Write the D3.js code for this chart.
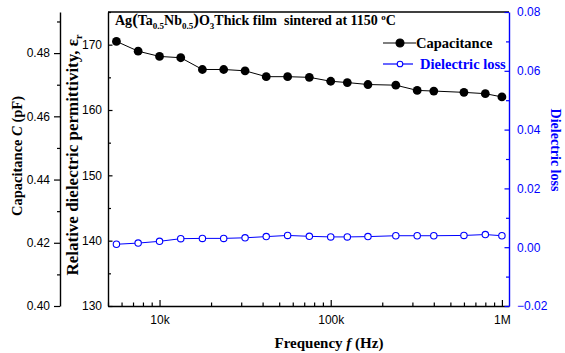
<!DOCTYPE html>
<html lang="en">
<head>
<meta charset="UTF-8">
<title>Ag(Ta,Nb)O3 thick film - permittivity and loss</title>
<script src="https://cdnjs.cloudflare.com/ajax/libs/d3/7.8.5/d3.min.js"></script>
<style>
    body { margin: 0; background: #fff; }
    .tick text { font-family: "Liberation Sans", Arial, sans-serif; font-size: 12px; }
    text.serif, .serif tspan { font-family: "Liberation Serif", "Times New Roman", serif; font-weight: bold; }
    .domain { stroke-width: 1.4; }
    .tick line { stroke-width: 1.2; }
</style>
</head>
<body>
<div id="chart"></div>
<script>
// values
const frequency = [5600, 7500, 10000, 13300, 17800, 23700, 31600, 42000, 56000, 75000,
                   100000, 125000, 165000, 240000, 320000, 400000, 600000, 800000, 1000000];
const permittivity = [170.5, 169.0, 168.2, 168.0, 166.2, 166.2, 166.0, 165.1, 165.1, 165.0,
                      164.4, 164.2, 163.9, 163.8, 163.0, 162.9, 162.7, 162.5, 162.0];
const loss = [0.0010, 0.0014, 0.0020, 0.0029, 0.0030, 0.0030, 0.0032, 0.0036, 0.0040, 0.0037,
              0.0035, 0.0035, 0.0036, 0.0039, 0.0039, 0.0039, 0.0040, 0.0043, 0.0039];

const freqTicks = [1e4, 1e5, 1e6];
const freqLabels = ["10k", "100k", "1M"];
const capTicks = [0.40, 0.42, 0.44, 0.46, 0.48];
const permTicks = [130, 140, 150, 160, 170];
const lossTicks = [-0.02, 0.00, 0.02, 0.04, 0.06, 0.08];

const blue = "#0000ff";
const serif = "'Liberation Serif', 'Times New Roman', serif";
const W = 565, H = 353;
const plot = {left: 108, right: 509, top: 12, bottom: 306};
const capAxisX = 60;

const svg = d3.select("#chart").append("svg")
    .attr("width", W)
    .attr("height", H);

// scales
const x = d3.scaleLog().domain([5000, 1.1e6]).range([plot.left, plot.right]);
const yPerm = d3.scaleLinear().domain([130, 175]).range([plot.bottom, plot.top]);
const yLoss = d3.scaleLinear().domain([-0.02, 0.08]).range([plot.bottom, plot.top]);
const yCap = d3.scaleLinear().domain([0.40, 0.493]).range([plot.bottom, plot.top]);

// top frame line
svg.append("line")
    .attr("x1", plot.left).attr("x2", plot.right)
    .attr("y1", plot.top).attr("y2", plot.top)
    .attr("stroke", "#000").attr("stroke-width", 1.4);

// x axis, ticks pointing inward
const xMinor = x.ticks().filter(d => !freqTicks.includes(d));
svg.append("g")
    .attr("transform", `translate(0,${plot.bottom})`)
    .call(d3.axisBottom(x).tickValues(xMinor).tickSize(-3.5).tickFormat(""))
    .call(g => g.select(".domain").remove());
svg.append("g")
    .attr("transform", `translate(0,${plot.bottom})`)
    .call(d3.axisBottom(x).tickValues(freqTicks)
        .tickFormat((d, i) => freqLabels[i])
        .tickSizeInner(-6).tickSizeOuter(0).tickPadding(9));

// permittivity axis (frame left)
svg.append("g")
    .attr("transform", `translate(${plot.left},0)`)
    .call(d3.axisLeft(yPerm).tickValues(d3.range(135, 176, 10)).tickSize(-3).tickFormat(""))
    .call(g => g.select(".domain").remove());
svg.append("g")
    .attr("transform", `translate(${plot.left},0)`)
    .call(d3.axisLeft(yPerm).tickValues(permTicks)
        .tickSizeInner(-4.5).tickSizeOuter(0).tickPadding(6));

// capacitance axis (outer left)
svg.append("g")
    .attr("transform", `translate(${capAxisX},0)`)
    .call(d3.axisLeft(yCap).tickValues(d3.range(0.41, 0.495, 0.02)).tickSize(3).tickFormat(""))
    .call(g => g.select(".domain").remove());
svg.append("g")
    .attr("transform", `translate(${capAxisX},0)`)
    .call(d3.axisLeft(yCap).tickValues(capTicks)
        .tickFormat(d3.format(".2f"))
        .tickSizeInner(6).tickSizeOuter(0).tickPadding(4));

// loss axis (right, blue)
svg.append("g")
    .attr("transform", `translate(${plot.right},0)`)
    .call(d3.axisRight(yLoss).tickValues(d3.range(-0.01, 0.08, 0.02)).tickSize(-3).tickFormat(""))
    .call(g => g.select(".domain").remove())
    .call(g => g.selectAll("line").attr("stroke", blue));
svg.append("g")
    .attr("transform", `translate(${plot.right},0)`)
    .call(d3.axisRight(yLoss).tickValues(lossTicks)
        .tickFormat(d3.format(".2f"))
        .tickSizeInner(-4.5).tickSizeOuter(0).tickPadding(8))
    .call(g => g.select(".domain").attr("stroke", blue))
    .call(g => g.selectAll("line").attr("stroke", blue))
    .call(g => g.selectAll("text").attr("fill", blue));

// permittivity series
const permPts = frequency.map((f, i) => [f, permittivity[i]]);
svg.append("path")
    .datum(permPts)
    .attr("fill", "none").attr("stroke", "#000").attr("stroke-width", 1)
    .attr("d", d3.line().x(d => x(d[0])).y(d => yPerm(d[1])));
svg.append("g").selectAll("circle")
    .data(permPts).join("circle")
    .attr("cx", d => x(d[0])).attr("cy", d => yPerm(d[1]))
    .attr("r", 4.4).attr("fill", "#000");

// loss series
const lossPts = frequency.map((f, i) => [f, loss[i]]);
svg.append("path")
    .datum(lossPts)
    .attr("fill", "none").attr("stroke", blue).attr("stroke-width", 1)
    .attr("d", d3.line().x(d => x(d[0])).y(d => yLoss(d[1])));
svg.append("g").selectAll("circle")
    .data(lossPts).join("circle")
    .attr("cx", d => x(d[0])).attr("cy", d => yLoss(d[1]))
    .attr("r", 3.2).attr("fill", "#fff").attr("stroke", blue).attr("stroke-width", 1.1);

// title inside plot
const title = svg.append("text").attr("class", "serif")
    .attr("x", 115).attr("y", 25).attr("font-size", 14);
title.append("tspan").text("Ag");
title.append("tspan").attr("font-size", 17).attr("font-weight", "normal").text("(");
title.append("tspan").text("Ta");
title.append("tspan").attr("font-size", 9).attr("dy", 4).text("0.5");
title.append("tspan").attr("dy", -4).text("Nb");
title.append("tspan").attr("font-size", 9).attr("dy", 4).text("0.5");
title.append("tspan").attr("dy", -4).attr("font-size", 17).attr("font-weight", "normal").text(")");
title.append("tspan").text("O");
title.append("tspan").attr("font-size", 9).attr("dy", 4).text("3");
title.append("tspan").attr("dy", -4).text("Thick film\u00a0\u00a0sintered at 1150 ");
title.append("tspan").attr("font-size", 9).attr("dy", -5).text("o");
title.append("tspan").attr("dy", 5).text("C");

// legend
const legend = [
    {label: "Capacitance", color: "#000", filled: true, y: 43, tx: 416},
    {label: "Dielectric loss", color: blue, filled: false, y: 64, tx: 420}
];
const lg = svg.append("g").selectAll("g").data(legend).join("g");
lg.append("line")
    .attr("x1", 383).attr("x2", d => d.filled ? 416 : 413)
    .attr("y1", d => d.y).attr("y2", d => d.y)
    .attr("stroke", d => d.color).attr("stroke-width", 1.2);
lg.append("circle")
    .attr("cx", 400).attr("cy", d => d.y)
    .attr("r", d => d.filled ? 4 : 2.8)
    .attr("fill", d => d.filled ? d.color : "#fff")
    .attr("stroke", d => d.color).attr("stroke-width", 1.1);
lg.append("text").attr("class", "serif")
    .attr("font-family", serif).attr("font-weight", "bold")
    .attr("x", d => d.tx).attr("y", d => d.y + 5)
    .attr("font-size", 14.5).attr("fill", d => d.color)
    .text(d => d.label);

// axis titles
const capTitle = svg.append("text").attr("class", "serif")
    .attr("transform", "translate(22,156) rotate(-90)")
    .attr("text-anchor", "middle").attr("font-size", 14.5);
capTitle.append("tspan").text("Capacitance ");
capTitle.append("tspan").attr("font-style", "italic").text("C");
capTitle.append("tspan").text(" (pF)");

const permTitle = svg.append("text").attr("class", "serif")
    .attr("transform", "translate(78,155) rotate(-90)")
    .attr("text-anchor", "middle").attr("font-size", 17);
permTitle.append("tspan").text("Relative dielectric permittivity, \u03b5");
permTitle.append("tspan").attr("font-size", 10).attr("dy", 4).text("r");

svg.append("text").attr("class", "serif")
    .attr("transform", "translate(551,150) rotate(90)")
    .attr("text-anchor", "middle").attr("font-size", 14)
    .attr("fill", blue)
    .text("Dielectric loss");

const xTitle = svg.append("text").attr("class", "serif")
    .attr("x", 329).attr("y", 348)
    .attr("text-anchor", "middle").attr("font-size", 15);
xTitle.append("tspan").text("Frequency ");
xTitle.append("tspan").attr("font-style", "italic").text("f");
xTitle.append("tspan").text(" (Hz)");
</script>
</body>
</html>
